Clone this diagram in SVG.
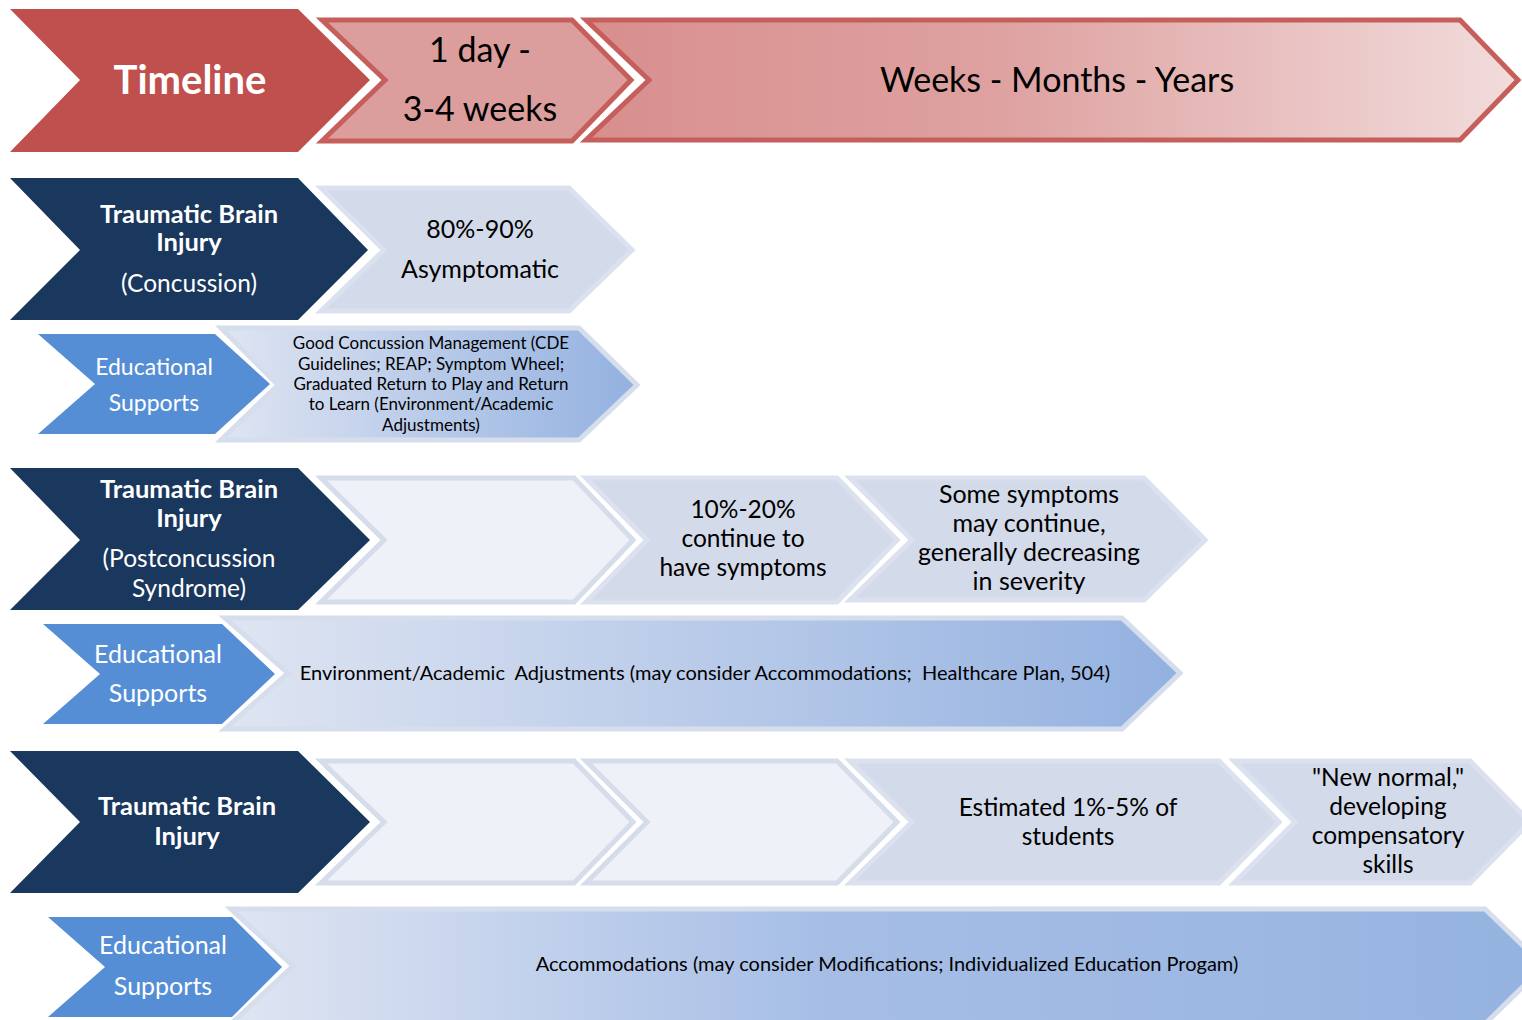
<svg xmlns="http://www.w3.org/2000/svg" width="1522" height="1020" viewBox="0 0 1522 1020">
<defs>
<linearGradient id="gWeeks" x1="0" y1="0" x2="1" y2="0">
<stop offset="0" stop-color="#D88F8E"/><stop offset="0.45" stop-color="#DEA2A1"/><stop offset="1" stop-color="#F2DCDC"/>
</linearGradient>
<linearGradient id="gEdu" x1="0" y1="0" x2="1" y2="0">
<stop offset="0" stop-color="#DFE5F2"/><stop offset="1" stop-color="#93B1E0"/>
</linearGradient>
<linearGradient id="gEdu3" x1="0" y1="0" x2="1" y2="0">
<stop offset="0" stop-color="#DFE5F2"/><stop offset="0.45" stop-color="#A6BEE6"/><stop offset="1" stop-color="#95B3E0"/>
</linearGradient>
<style>
.t{font-family:Lato,"Open Sans","Liberation Sans",sans-serif;text-anchor:middle}
.red{fill:#C0504D}
.pink{fill:#DB9E9D;stroke:#C65F5C;stroke-width:5}
.weeks{fill:url(#gWeeks);stroke:#C65F5C;stroke-width:5}
.navy{fill:#1A375E}
.blue{fill:#558ED5}
.lt{fill:#D3DAE9;stroke:#DBE1EE;stroke-width:5}
.empty{fill:#EEF1F7;stroke:#D5DCEA;stroke-width:5}
.edu{fill:url(#gEdu);stroke:#D6DDEC;stroke-width:5}
.edu3{fill:url(#gEdu3);stroke:#D6DDEC;stroke-width:5}
.w{fill:#FFFFFF}
.k{fill:#000000}
.b{font-weight:bold}
</style>
</defs>

<g id="timeline">
<polygon class="red" points="10,9 298,9 370,80 298,152 10,152 80,80"/>
<text class="t w b" x="190" y="94" font-size="40">Timeline</text>
</g>
<g id="t-1day">
<polygon class="pink" points="322,20 572,20 631,80 572,141 322,141 385,80"/>
<text class="t k" x="480" y="62" font-size="34">1 day -</text>
<text class="t k" x="480" y="121" font-size="34">3-4 weeks</text>
</g>
<g id="t-weeks">
<polygon class="weeks" points="586,20 1460,20 1518,80 1460,140 586,140 649,80"/>
<text class="t k" x="1057" y="92" font-size="34">Weeks - Months - Years</text>
</g>

<g id="tbi-concussion">
<polygon class="navy" points="10,178 298,178 368,250 298,320 10,320 80,250"/>
<text class="t w b" x="189" y="223" font-size="25.5">Traumatic Brain</text>
<text class="t w b" x="189" y="251" font-size="25.5">Injury</text>
<text class="t w" x="189" y="292" font-size="24.5">(Concussion)</text>
</g>
<g id="asymptomatic">
<polygon class="lt" points="321,188 569,188 632,250 569,311 321,311 384,250"/>
<text class="t k" x="480" y="238" font-size="25">80%-90%</text>
<text class="t k" x="480" y="278" font-size="25">Asymptomatic</text>
</g>
<g id="edu1">
<polygon class="blue" points="38,334 215,334 270,384 215,434 38,434 95,384"/>
<text class="t w" x="154" y="375" font-size="23">Educational</text>
<text class="t w" x="154" y="411" font-size="23">Supports</text>
</g>
<g id="edu1-detail">
<polygon class="edu" points="221,328 579,328 637,385 579,440 221,440 278,385"/>
<text class="t k" x="431" y="349" font-size="17">Good Concussion Management (CDE</text>
<text class="t k" x="431" y="370" font-size="17">Guidelines; REAP; Symptom Wheel;</text>
<text class="t k" x="431" y="390" font-size="17">Graduated Return to Play and Return</text>
<text class="t k" x="431" y="410" font-size="17">to Learn (Environment/Academic</text>
<text class="t k" x="431" y="431" font-size="17">Adjustments)</text>
</g>

<g id="tbi-pcs">
<polygon class="navy" points="10,468 298,468 370,540 298,610 10,610 80,540"/>
<text class="t w b" x="189" y="498" font-size="25.5">Traumatic Brain</text>
<text class="t w b" x="189" y="527" font-size="25.5">Injury</text>
<text class="t w" x="189" y="567" font-size="24.5">(Postconcussion</text>
<text class="t w" x="189" y="597" font-size="24.5">Syndrome)</text>
</g>
<g id="pcs-empty">
<polygon class="empty" points="321,478 574,478 633,540 574,602 321,602 384,540"/>
</g>
<g id="pcs-10-20">
<polygon class="lt" points="586,478 837,478 897,540 837,602 586,602 647,540"/>
<text class="t k" x="743" y="518" font-size="24.5">10%-20%</text>
<text class="t k" x="743" y="547" font-size="24.5">continue to</text>
<text class="t k" x="743" y="576" font-size="24.5">have symptoms</text>
</g>
<g id="pcs-some">
<polygon class="lt" points="850,478 1144,478 1205,540 1144,600 850,600 912,540"/>
<text class="t k" x="1029" y="503" font-size="25">Some symptoms</text>
<text class="t k" x="1029" y="532" font-size="25">may continue,</text>
<text class="t k" x="1029" y="561" font-size="25">generally decreasing</text>
<text class="t k" x="1029" y="590" font-size="25">in severity</text>
</g>
<g id="edu2">
<polygon class="blue" points="43,624 222,624 275,674 222,724 43,724 100,674"/>
<text class="t w" x="158" y="663" font-size="25">Educational</text>
<text class="t w" x="158" y="702" font-size="25">Supports</text>
</g>
<g id="edu2-detail">
<polygon class="edu" points="225,618 1122,618 1180,673 1122,729 225,729 288,673"/>
<text class="t k" x="705" y="680" font-size="20" xml:space="preserve">Environment/Academic  Adjustments (may consider Accommodations;  Healthcare Plan, 504)</text>
</g>

<g id="tbi">
<polygon class="navy" points="10,751 298,751 370,822 298,893 10,893 80,822"/>
<text class="t w b" x="187" y="815" font-size="25.5">Traumatic Brain</text>
<text class="t w b" x="187" y="845" font-size="25.5">Injury</text>
</g>
<g id="tbi-empty1">
<polygon class="empty" points="321,761 574,761 633,822 574,883 321,883 384,822"/>
</g>
<g id="tbi-empty2">
<polygon class="empty" points="586,761 837,761 897,822 837,883 586,883 647,822"/>
</g>
<g id="tbi-estimated">
<polygon class="lt" points="850,761 1219,761 1279,822 1219,883 850,883 912,822"/>
<text class="t k" x="1068" y="816" font-size="24.5">Estimated 1%-5% of</text>
<text class="t k" x="1068" y="845" font-size="24.5">students</text>
</g>
<g id="tbi-newnormal">
<polygon class="lt" points="1234,761 1470,761 1530,822 1470,883 1234,883 1295,822"/>
<text class="t k" x="1388" y="786" font-size="24.5">"New normal,"</text>
<text class="t k" x="1388" y="815" font-size="24.5">developing</text>
<text class="t k" x="1388" y="844" font-size="24.5">compensatory</text>
<text class="t k" x="1388" y="873" font-size="24.5">skills</text>
</g>
<g id="edu3">
<polygon class="blue" points="48,917 232,917 282,967 232,1017 48,1017 105,967"/>
<text class="t w" x="163" y="954" font-size="25">Educational</text>
<text class="t w" x="163" y="995" font-size="25">Supports</text>
</g>
<g id="edu3-detail">
<polygon class="edu3" points="231,909 1485,909 1544,966 1485,1024 231,1024 293,966"/>
<text class="t k" x="887" y="971" font-size="20">Accommodations (may consider Modifications; Individualized Education Progam)</text>
</g>

<g id="connectors"></g>
</svg>
